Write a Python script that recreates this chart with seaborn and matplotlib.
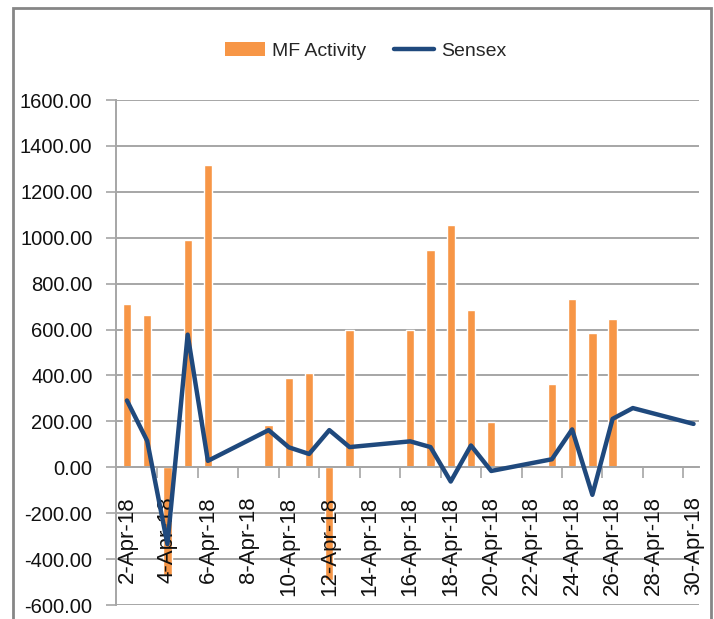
import numpy as np
import pandas as pd
import matplotlib
matplotlib.use("Agg")
import matplotlib.pyplot as plt
import seaborn as sns
from matplotlib.patches import Patch, Rectangle
from matplotlib.lines import Line2D

# ---------------------------------------------------------------
# data (April 2018, day of month)
# ---------------------------------------------------------------
mf_days = [2, 3, 4, 5, 6, 9, 10, 11, 12, 13, 16, 17, 18, 19, 20, 23, 24, 25, 26]
mf_activity = [710, 665, -470, 990, 1315, 185, 390, 410, -490, 600,
               600, 945, 1055, 685, 198, 365, 735, 585, 645]

sensex_days = [2, 3, 4, 5, 6, 9, 10, 11, 12, 13, 16, 17, 18, 19, 20,
               23, 24, 25, 26, 27, 30]
sensex = [291, 115, -335, 578, 28, 162, 87, 58, 162, 88, 113, 88, -62, 95, -16,
          35, 165, -120, 211, 258, 189]

tick_days = list(range(2, 31, 2))
tick_labels = [f"{d}-Apr-18" for d in tick_days]
y_ticks = list(range(-600, 1601, 200))

ORANGE = "#F79646"
NAVY = "#1F497D"
GRID = "#A6A6A6"

df_mf = pd.DataFrame({"day": mf_days, "value": mf_activity})
df_sx = pd.DataFrame({"day": sensex_days, "value": sensex})

# ---------------------------------------------------------------
# plot
# ---------------------------------------------------------------
sns.set_theme(style="white")
plt.rcParams["font.family"] = ["Liberation Sans", "DejaVu Sans"]

fig = plt.figure(figsize=(7.14, 6.19), dpi=100)
ax = fig.add_axes([0.1625, 0.0226, 0.8165, 0.8158])

# gridlines by hand so they sit under the bars while tick labels sit above
for yv in y_ticks:
    ax.axhline(yv, color=GRID, linewidth=1.4, zorder=0.5)

sns.barplot(data=df_mf, x="day", y="value", native_scale=True, width=0.41,
            color=ORANGE, saturation=1, ax=ax, zorder=2)
sns.lineplot(data=df_sx, x="day", y="value", color=NAVY, linewidth=3.2,
             ax=ax, zorder=3)

ax.set_xlim(1.46, 30.27)
ax.set_ylim(-600, 1600)
ax.set_xlabel("")
ax.set_ylabel("")
ax.grid(False)
ax.set_axisbelow(False)

# y axis
ax.set_yticks(y_ticks)
ax.set_yticklabels([f"{v:.2f}" for v in y_ticks], fontsize=14.5)
ax.tick_params(axis="y", direction="out", length=7, width=1.2, color=GRID,
               pad=10, left=True, labelcolor="#111111")

# x axis through zero
ax.spines["bottom"].set_position(("data", 0))
ax.spines["bottom"].set_color(GRID)
ax.spines["bottom"].set_linewidth(1.4)
ax.spines["left"].set_color(GRID)
ax.spines["left"].set_linewidth(1.4)
ax.spines["top"].set_visible(False)
ax.spines["right"].set_visible(False)

ax.set_xticks(tick_days)
ax.set_xticklabels(tick_labels, rotation=90, fontsize=16)
ax.set_xticks([d + 1.5 for d in tick_days[:-1]], minor=True)
ax.tick_params(axis="x", which="major", length=0, pad=21, labelcolor="#111111")
ax.tick_params(axis="x", which="minor", direction="out", length=8, width=1.2,
               color=GRID, bottom=True)

# legend
handles = [Patch(facecolor=ORANGE, edgecolor="none", label="MF Activity"),
           Line2D([0], [0], color=NAVY, linewidth=3.2, label="Sensex")]
fig.legend(handles=handles, loc="center", bbox_to_anchor=(0.512, 0.918), ncol=2,
           frameon=False, prop={"size": 14},
           handlelength=2.1, handleheight=0.7, handletextpad=0.35, columnspacing=1.4)

# chart border
fig.patches.append(Rectangle((13 / 714, -0.05), (711 - 13) / 714, 1.05 - 8 / 619,
                             transform=fig.transFigure, fill=False,
                             edgecolor="#868686", linewidth=2, clip_on=False))

fig.savefig("out.png", dpi=100)
